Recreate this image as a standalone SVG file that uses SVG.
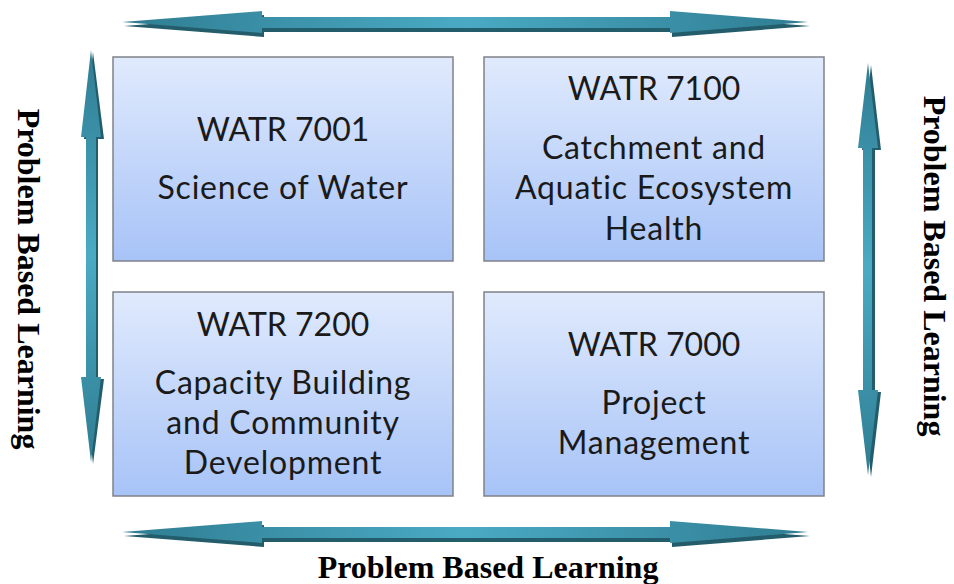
<svg xmlns="http://www.w3.org/2000/svg" width="954" height="584" viewBox="0 0 954 584">
<defs>
<linearGradient id="box" x1="0" y1="0" x2="0" y2="1">
<stop offset="0" stop-color="#e0eafd"/>
<stop offset="1" stop-color="#a7c3f7"/>
</linearGradient>
<linearGradient id="ah" x1="0" y1="0" x2="1" y2="0">
<stop offset="0" stop-color="#2f7d92"/>
<stop offset="0.5" stop-color="#4aaac4"/>
<stop offset="1" stop-color="#2f7d92"/>
</linearGradient>
<linearGradient id="av" x1="0" y1="0" x2="0" y2="1">
<stop offset="0" stop-color="#2f7d92"/>
<stop offset="0.5" stop-color="#4aaac4"/>
<stop offset="1" stop-color="#2f7d92"/>
</linearGradient>
<style>
.bx{fill:url(#box);stroke:#7f8288;stroke-width:1.5}
.t{font-family:Lato,"Open Sans",sans-serif;font-size:32px;fill:#1a1a1a;text-anchor:middle}
.d{letter-spacing:0.8px}
.pbl{font-family:"Liberation Serif","Times New Roman",serif;font-weight:bold;font-size:32px;fill:#000;text-anchor:middle}
.sh{fill:#235c6a}
.ah{fill:url(#ah)}
.av{fill:url(#av)}
</style>
</defs>
<g id="connectors">
<g id="arrow-top">
<polygon class="sh" points="124,26 264,15 264,21 672,21 672,15 810,26 672,37 672,32 264,32 264,37"/>
<polygon class="ah" points="122,22 262,11 262,17 670,17 670,11 808,22 670,33 670,28 262,28 262,33"/>
</g>
<g id="arrow-bottom">
<polygon class="sh" points="124,536 264,525 264,531 672,531 672,525 810,536 672,547 672,542 264,542 264,547"/>
<polygon class="ah" points="122,532 262,521 262,527 670,527 670,521 808,532 670,543 670,538 262,538 262,543"/>
</g>
<g id="arrow-left">
<polygon class="sh" points="93,52 104,139 98,139 98,379 104,379 93,464 84,379 89,379 89,139 84,139"/>
<polygon class="av" points="91,50 101,137 96,137 96,377 101,377 91,462 81,377 86,377 86,137 81,137"/>
</g>
<g id="arrow-right">
<polygon class="sh" points="871,65 881,150 875,150 875,392 881,392 871,477 862,392 866,392 866,150 862,150"/>
<polygon class="av" points="868,63 878,148 872,148 872,390 878,390 868,475 858,390 863,390 863,148 858,148"/>
</g>
</g>
<g id="node-7001">
<rect class="bx" x="113" y="57" width="340" height="204"/>
<text class="t" x="283" y="141">WATR 7001</text>
<text class="t d" x="283" y="199">Science of Water</text>
</g>
<g id="node-7100">
<rect class="bx" x="484" y="57" width="340" height="204"/>
<text class="t" x="654" y="100">WATR 7100</text>
<text class="t d" x="654" y="159">Catchment and</text>
<text class="t d" x="654" y="199">Aquatic Ecosystem</text>
<text class="t d" x="654" y="240">Health</text>
</g>
<g id="node-7200">
<rect class="bx" x="113" y="292" width="340" height="204"/>
<text class="t" x="283" y="336">WATR 7200</text>
<text class="t d" x="283" y="394">Capacity Building</text>
<text class="t d" x="283" y="434">and Community</text>
<text class="t d" x="283" y="474">Development</text>
</g>
<g id="node-7000">
<rect class="bx" x="484" y="292" width="340" height="204"/>
<text class="t" x="654" y="356">WATR 7000</text>
<text class="t d" x="654" y="414">Project</text>
<text class="t d" x="654" y="454">Management</text>
</g>
<g id="labels">
<text class="pbl" transform="translate(18,279) rotate(90)">Problem Based Learning</text>
<text class="pbl" transform="translate(924,266) rotate(90)">Problem Based Learning</text>
<text class="pbl" x="488" y="578">Problem Based Learning</text>
</g>
</svg>
